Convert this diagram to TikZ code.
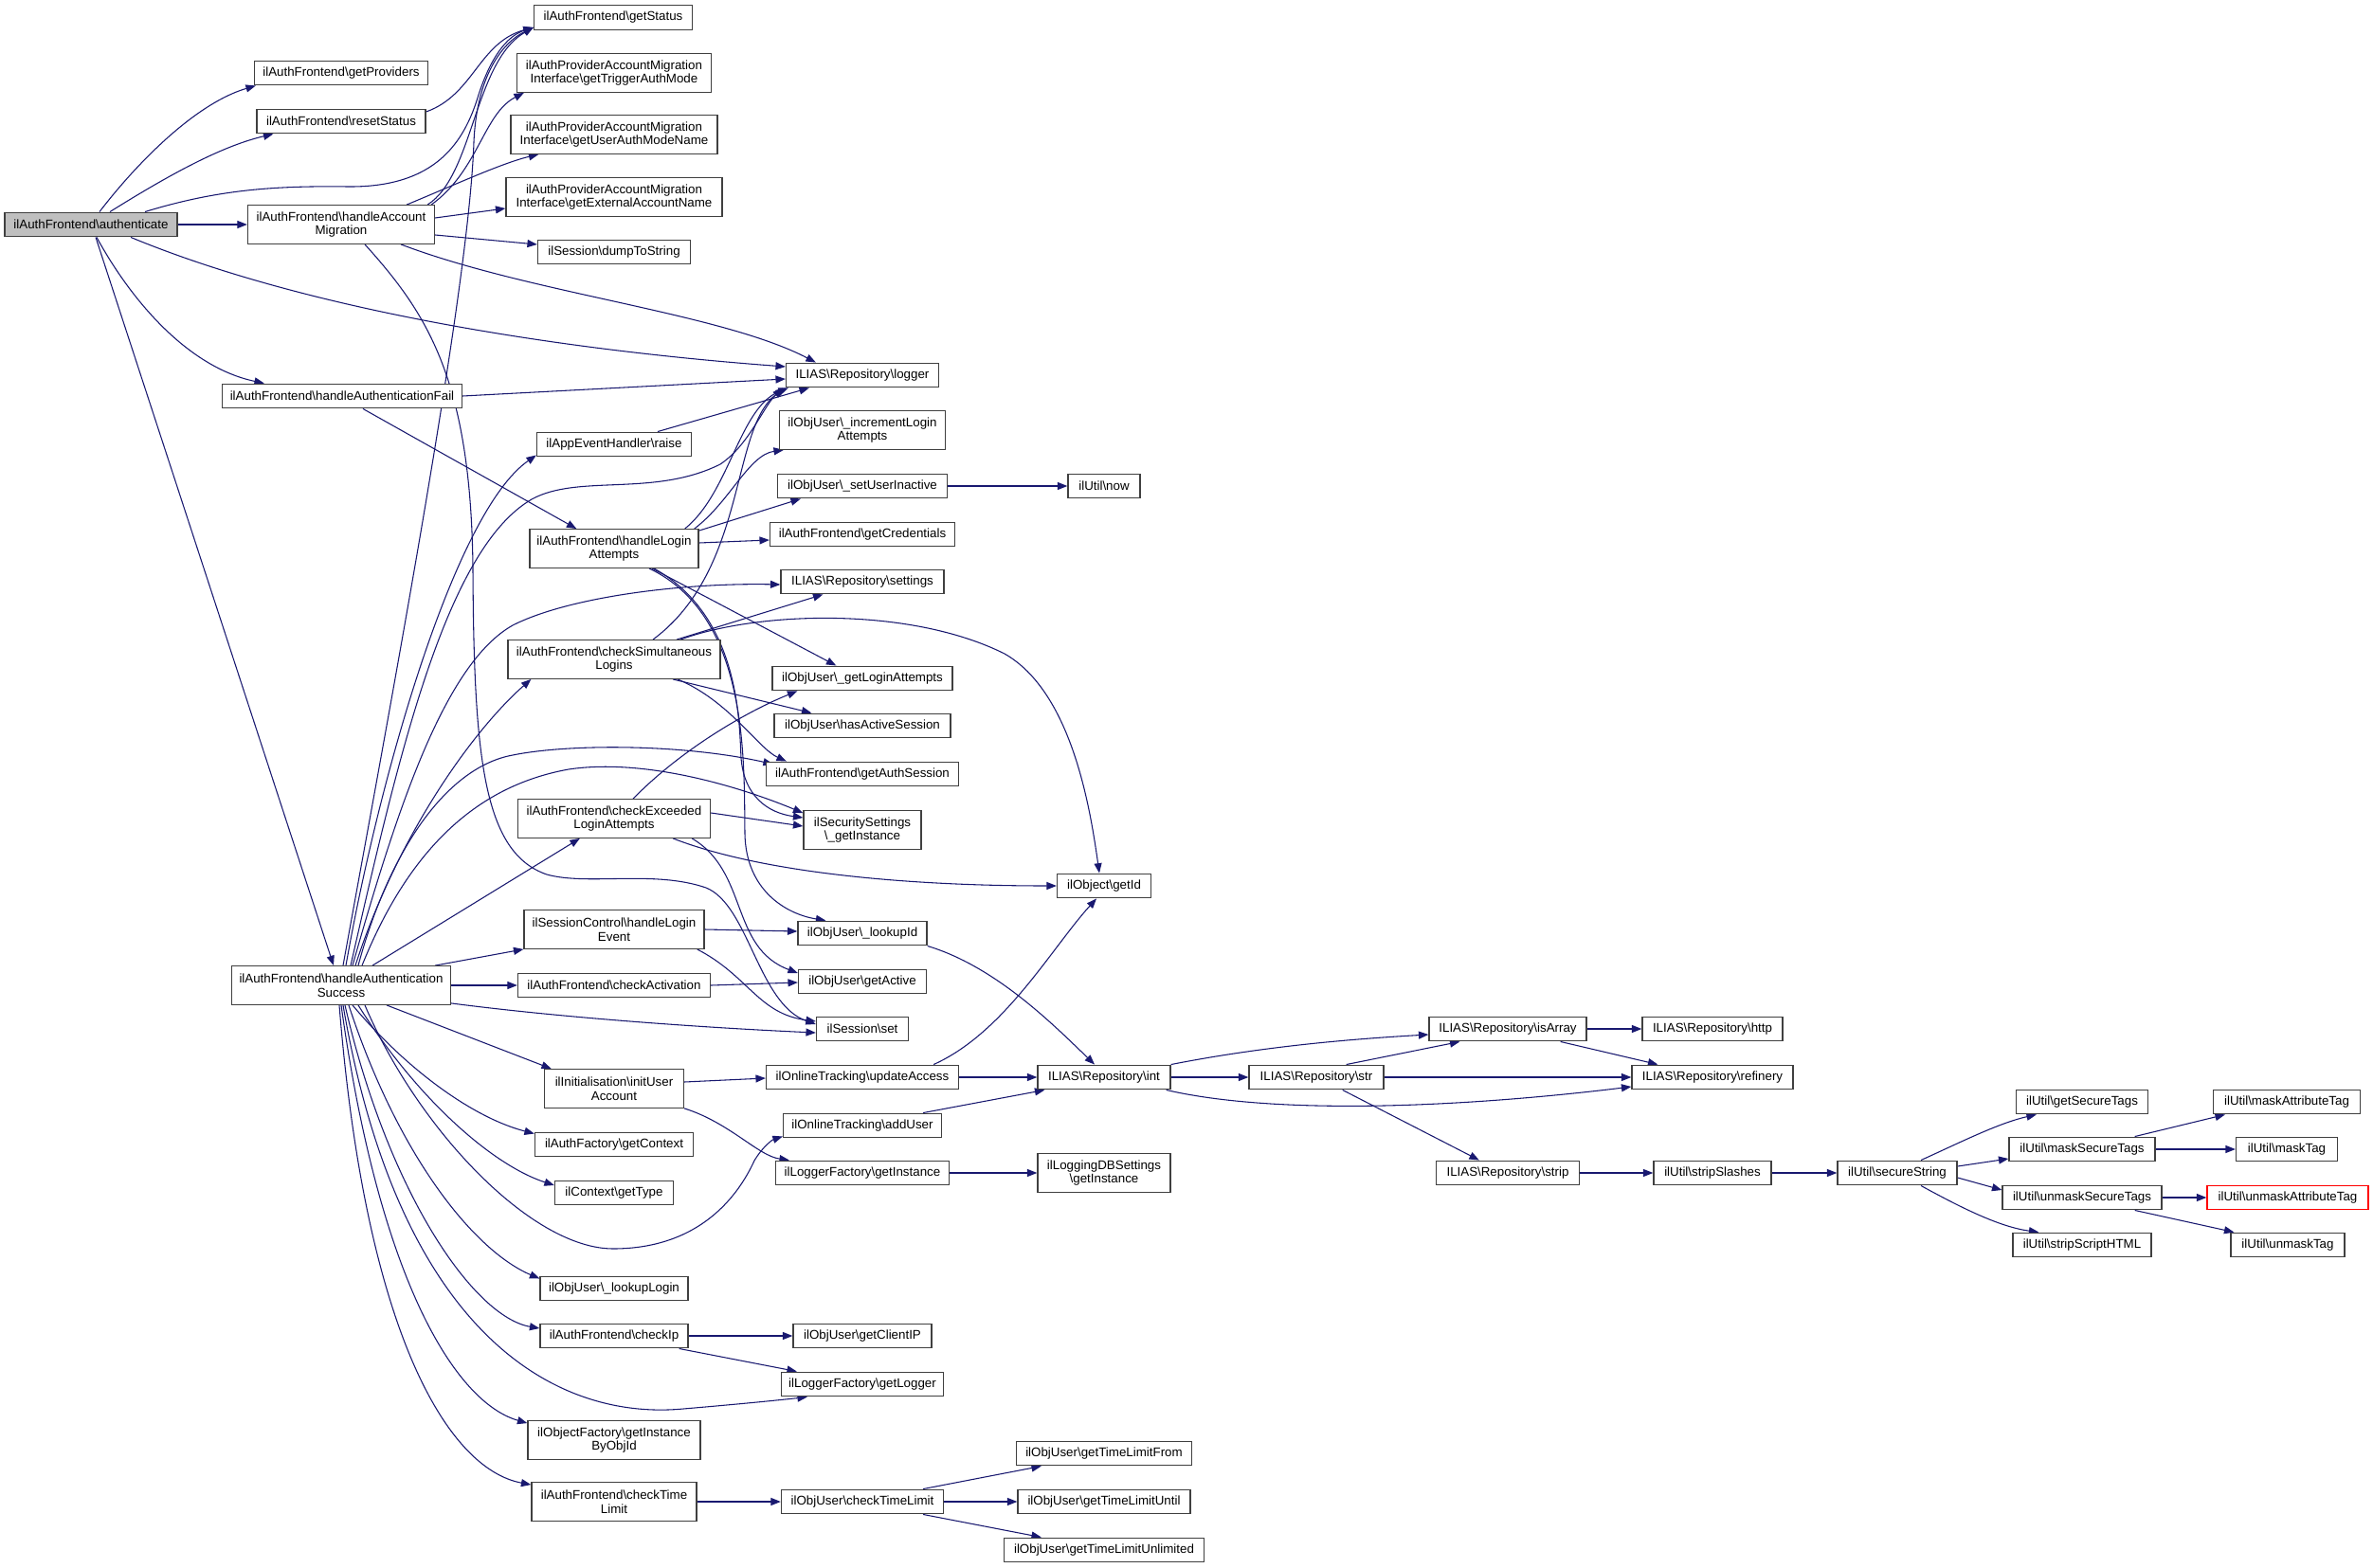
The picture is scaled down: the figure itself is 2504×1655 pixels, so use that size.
\documentclass[tikz,border=0pt]{standalone}
\usepackage{fontspec}
\setmainfont{Liberation Sans}
\usetikzlibrary{arrows.meta,calc}
\definecolor{edgecol}{HTML}{191970}
\definecolor{nodeborder}{HTML}{404040}
\definecolor{authgray}{HTML}{BFBFBF}
\newcommand{\bksl}{\textbackslash}
\pgfdeclarelayer{bg}
\pgfsetlayers{bg,main}
\begin{document}
\begin{tikzpicture}[x=0.75pt,y=-0.75pt,
  nd/.style={draw=nodeborder, line width=1pt, fill=white, inner sep=0pt, align=center, font=\fontsize{10}{11}\selectfont},
  bx/.style={nd, minimum width={#1*0.75pt}, minimum height=19.2pt},
  bb/.style={nd, minimum width={#1*0.75pt}, minimum height=30.4pt},
  cn/.style={draw=edgecol, line width=0.8pt, -{Triangle[length=7.8pt,width=6pt]}}
]
\useasboundingbox (0,0) rectangle (2504,1655);
\begin{pgfonlayer}{bg}
\fill[white] (0,0) rectangle (2504,1655);
\end{pgfonlayer}

% ---------- nodes ----------
\node[bx=182, fill=authgray] (auth) at (96,237) {ilAuthFrontend\bksl authenticate};
\node[bx=183] (getProv) at (360,77) {ilAuthFrontend\bksl getProviders};
\node[bx=178] (resetSt) at (360,128) {ilAuthFrontend\bksl resetStatus};
\node[bx=167] (getSt) at (647,18.5) {ilAuthFrontend\bksl getStatus};
\node[bb=205] (trig) at (648,77) {ilAuthProviderAccountMigration\\Interface\bksl getTriggerAuthMode};
\node[bb=218] (uam) at (648,142) {ilAuthProviderAccountMigration\\Interface\bksl getUserAuthModeName};
\node[bb=228] (ext) at (648,208) {ilAuthProviderAccountMigration\\Interface\bksl getExternalAccountName};
\node[bx=161] (dump) at (648,266) {ilSession\bksl dumpToString};
\node[bb=197] (ham) at (360,237) {ilAuthFrontend\bksl handleAccount\\Migration};
\node[bx=253] (haf) at (361,418) {ilAuthFrontend\bksl handleAuthenticationFail};
\node[bx=161] (logger) at (910,396) {ILIAS\bksl Repository\bksl logger};
\node[bx=163] (raise) at (648,469) {ilAppEventHandler\bksl raise};
\node[bb=175] (incr) at (910,454) {ilObjUser\bksl\_incrementLogin\\Attempts};
\node[bx=179] (inact) at (910,513) {ilObjUser\bksl\_setUserInactive};
\node[bx=76] (now) at (1165,513) {ilUtil\bksl now};
\node[bb=178] (hla) at (648,579) {ilAuthFrontend\bksl handleLogin\\Attempts};
\node[bx=195] (cred) at (910,564) {ilAuthFrontend\bksl getCredentials};
\node[bx=172] (settings) at (910,614) {ILIAS\bksl Repository\bksl settings};
\node[bb=224] (csl) at (648,696) {ilAuthFrontend\bksl checkSimultaneous\\Logins};
\node[bx=190] (gla) at (910,716) {ilObjUser\bksl\_getLoginAttempts};
\node[bx=186] (has) at (910,766) {ilObjUser\bksl hasActiveSession};
\node[bx=203] (gas) at (910,817) {ilAuthFrontend\bksl getAuthSession};
\node[bb=203] (cela) at (648,864) {ilAuthFrontend\bksl checkExceeded\\LoginAttempts};
\node[bb=124] (ssgi) at (910,876) {ilSecuritySettings\\\bksl\_getInstance};
\node[bx=99] (getid) at (1165,935) {ilObject\bksl getId};
\node[bb=190] (scle) at (648,981) {ilSessionControl\bksl handleLogin\\Event};
\node[bx=136] (lookupid) at (910,985) {ilObjUser\bksl\_lookupId};
\node[bx=203] (cact) at (648,1040) {ilAuthFrontend\bksl checkActivation};
\node[bx=135] (getact) at (910,1036) {ilObjUser\bksl getActive};
\node[bx=97] (sset) at (910,1086) {ilSession\bksl set};
\node[bb=147] (iua) at (648,1149) {ilInitialisation\bksl initUser\\Account};
\node[bx=203] (upd) at (910,1137) {ilOnlineTracking\bksl updateAccess};
\node[bx=140] (rint) at (1165,1137) {ILIAS\bksl Repository\bksl int};
\node[bx=167] (addu) at (910,1188) {ilOnlineTracking\bksl addUser};
\node[bx=167] (gctx) at (648,1208) {ilAuthFactory\bksl getContext};
\node[bx=183] (lfgi) at (910,1238) {ilLoggerFactory\bksl getInstance};
\node[bb=140] (ldb) at (1165,1238) {ilLoggingDBSettings\\\bksl getInstance};
\node[bx=125] (gtype) at (648,1259) {ilContext\bksl getType};
\node[bb=231] (hsucc) at (360,1040) {ilAuthFrontend\bksl handleAuthentication\\Success};
\node[bx=156] (llogin) at (648,1360) {ilObjUser\bksl\_lookupLogin};
\node[bx=156] (cip) at (648,1410) {ilAuthFrontend\bksl checkIp};
\node[bx=146] (gcip) at (910,1410) {ilObjUser\bksl getClientIP};
\node[bx=171] (glog) at (910,1461) {ilLoggerFactory\bksl getLogger};
\node[bb=182] (ofgi) at (648,1520) {ilObjectFactory\bksl getInstance\\ByObjId};
\node[bb=174] (ctl) at (648,1585) {ilAuthFrontend\bksl checkTime\\Limit};
\node[bx=171] (uctl) at (910,1585) {ilObjUser\bksl checkTimeLimit};
\node[bx=185] (tlf) at (1165,1534) {ilObjUser\bksl getTimeLimitFrom};
\node[bx=182] (tlu) at (1165,1585) {ilObjUser\bksl getTimeLimitUntil};
\node[bx=211] (tlun) at (1165,1636) {ilObjUser\bksl getTimeLimitUnlimited};
\node[bx=142] (rstr) at (1389,1137) {ILIAS\bksl Repository\bksl str};
\node[bx=166] (isarr) at (1591,1086) {ILIAS\bksl Repository\bksl isArray};
\node[bx=151] (strip) at (1591,1238) {ILIAS\bksl Repository\bksl strip};
\node[bx=148] (http) at (1807,1086) {ILIAS\bksl Repository\bksl http};
\node[bx=170] (refin) at (1807,1137) {ILIAS\bksl Repository\bksl refinery};
\node[bx=124] (sslash) at (1807,1238) {ilUtil\bksl stripSlashes};
\node[bx=126] (secs) at (2002,1238) {ilUtil\bksl secureString};
\node[bx=139] (gst) at (2197,1163) {ilUtil\bksl getSecureTags};
\node[bx=154] (mst) at (2197,1213) {ilUtil\bksl maskSecureTags};
\node[bx=168] (ust) at (2197,1264) {ilUtil\bksl unmaskSecureTags};
\node[bx=146] (ssh) at (2197,1314) {ilUtil\bksl stripScriptHTML};
\node[bx=155] (mat) at (2413,1163) {ilUtil\bksl maskAttributeTag};
\node[bx=107] (mtag) at (2413,1213) {ilUtil\bksl maskTag};
\node[bx=170, draw=red] (umat) at (2414,1264) {ilUtil\bksl unmaskAttributeTag};
\node[bx=120] (umtag) at (2414,1314) {ilUtil\bksl unmaskTag};

% ---------- connectors ----------
\begin{pgfonlayer}{bg}
% authenticate
\draw[cn] ($(auth.north)+(9,0)$) .. controls (150,165) and (210,108) .. ($(getProv.south west)+(2,0)$);
\draw[cn] ($(auth.north)+(20,0)$) .. controls (170,190) and (230,155) .. ($(resetSt.south west)+(18,0)$);
\draw[cn] ($(auth.north)+(57,0)$) .. controls (230,200) and (290,196) .. (367,197) .. controls (460,198) and (490,150) .. (505,100) .. controls (518,60) and (535,38) .. ($(getSt.south west)+(0,-3)$);
\draw[cn] (auth.east) -- (ham.west);
\draw[cn] ($(auth.south)+(42,0)$) .. controls (330,330) and (600,370) .. ($(logger.west)+(0,-9)$);
\draw[cn] ($(auth.south)+(6,0)$) .. controls (140,320) and (200,388) .. ($(haf.north west)+(45,0)$);
\draw[cn] ($(auth.south)+(5,0)$) -- ($(hsucc.north)+(-8,0)$);
% resetStatus
\draw[cn] ($(resetSt.east)+(0,-10)$) .. controls (500,100) and (505,45) .. ($(getSt.south west)+(0,-3)$);
% handleAccountMigration
\draw[cn] ($(ham.north east)+(-8,0)$) .. controls (500,185) and (500,65) .. ($(getSt.south west)+(0,-3)$);
\draw[cn] ($(ham.north east)+(-4,0)$) .. controls (505,180) and (510,120) .. ($(trig.south west)+(8,0)$);
\draw[cn] ($(ham.north east)+(-30,0)$) .. controls (480,195) and (530,172) .. ($(uam.south west)+(30,0)$);
\draw[cn] ($(ham.east)+(0,-7)$) -- ($(ext.west)+(0,12)$);
\draw[cn] ($(ham.east)+(0,11)$) -- ($(dump.west)+(0,-8)$);
\draw[cn] ($(ham.south)+(63,0)$) .. controls (560,310) and (760,330) .. ($(logger.north west)+(32,0)$);
\draw[cn] ($(ham.south)+(25,0)$) .. controls (450,330) and (497,400) .. (499,600) .. controls (500,800) and (510,900) .. (577,923) .. controls (620,935) and (690,918) .. (745,937) .. controls (790,955) and (800,1060) .. ($(sset.west)+(0,-5)$);
% handleAuthenticationFail
\draw[cn] (haf.east) -- ($(logger.west)+(0,4)$);
\draw[cn] ($(haf.south)+(22,0)$) -- ($(hla.north west)+(50,0)$);
% raise
\draw[cn] ($(raise.north)+(46,0)$) -- ($(logger.south west)+(25,0)$);
% handleAuthenticationSuccess
\draw[cn] ($(hsucc.north)+(2,0)$) .. controls (420,700) and (495,300) .. (500,150) .. controls (503,80) and (530,45) .. ($(getSt.south west)+(0,-3)$);
\draw[cn] ($(hsucc.north)+(5,0)$) .. controls (400,820) and (480,540) .. ($(raise.south west)+(0,-2)$);
\draw[cn] ($(hsucc.north)+(10,0)$) .. controls (420,800) and (470,580) .. (561,527) .. controls (610,500) and (690,525) .. (760,490) .. controls (790,470) and (805,430) .. ($(logger.south west)+(-3,0)$);
\draw[cn] ($(hsucc.north)+(15,0)$) .. controls (420,880) and (500,770) .. ($(csl.south west)+(25,0)$);
\draw[cn] ($(hsucc.north)+(12,0)$) .. controls (420,850) and (470,700) .. (541,660) .. controls (600,630) and (720,615) .. ($(settings.west)+(0,3)$);
\draw[cn] ($(hsucc.north)+(18,0)$) .. controls (410,900) and (470,810) .. (541,797) .. controls (600,785) and (720,785) .. ($(gas.north west)+(8,3)$);
\draw[cn] ($(hsucc.north)+(22,0)$) .. controls (430,900) and (500,830) .. (600,812) .. controls (680,800) and (780,830) .. ($(ssgi.north west)+(0,3)$);
\draw[cn] ($(hsucc.north)+(33,0)$) -- ($(cela.south west)+(66,0)$);
\draw[cn] ($(hsucc.north east)+(-17,0)$) -- (scle.south west);
\draw[cn] (hsucc.east) -- (cact.west);
\draw[cn] ($(hsucc.south east)+(0,-2)$) .. controls (600,1075) and (750,1085) .. ($(sset.west)+(0,4)$);
\draw[cn] ($(hsucc.south)+(48,0)$) -- ($(iua.north west)+(8,0)$);
\draw[cn] ($(hsucc.south)+(12,0)$) .. controls (430,1130) and (500,1180) .. ($(gctx.north west)+(0,2)$);
\draw[cn] ($(hsucc.south)+(18,0)$) .. controls (440,1160) and (520,1230) .. ($(gtype.west)+(0,-8)$);
\draw[cn] ($(hsucc.south)+(25,0)$) .. controls (440,1190) and (560,1318) .. (647,1318) .. controls (740,1318) and (780,1260) .. (796,1225) .. controls (805,1210) and (815,1203) .. ($(addu.south west)+(0,-2)$);
\draw[cn] ($(hsucc.south)+(8,0)$) .. controls (420,1220) and (500,1320) .. ($(llogin.north west)+(0,3)$);
\draw[cn] ($(hsucc.south)+(4,0)$) .. controls (410,1260) and (500,1390) .. ($(cip.west)+(0,-8)$);
\draw[cn] ($(hsucc.south)+(2,0)$) .. controls (420,1400) and (580,1500) .. (721,1487) .. controls (780,1482) and (820,1478) .. ($(glog.south west)+(28,0)$);
\draw[cn] (hsucc.south) .. controls (400,1350) and (480,1480) .. ($(ofgi.north west)+(0,3)$);
\draw[cn] ($(hsucc.south)+(-2,0)$) .. controls (385,1400) and (470,1550) .. ($(ctl.north west)+(0,3)$);
% handleLoginAttempts
\draw[cn] ($(hla.north east)+(-15,0)$) .. controls (770,520) and (780,430) .. ($(logger.south west)+(3,0)$);
\draw[cn] ($(hla.north east)+(-5,0)$) .. controls (770,530) and (790,480) .. ($(incr.south west)+(5,0)$);
\draw[cn] ($(hla.north east)+(0,2)$) -- ($(inact.south west)+(25,0)$);
\draw[cn] ($(hla.east)+(0,-6)$) -- ($(cred.west)+(0,6)$);
\draw[cn] ($(hla.south)+(40,0)$) -- ($(gla.north west)+(68,0)$);
\draw[cn] ($(hla.south)+(42,0)$) .. controls (780,650) and (780,760) .. (782,800) .. controls (785,840) and (810,858) .. ($(ssgi.west)+(0,-13)$);
\draw[cn] ($(hla.south)+(37,0)$) .. controls (790,650) and (785,800) .. (786,880) .. controls (787,940) and (830,965) .. ($(lookupid.north west)+(30,0)$);
% checkSimultaneousLogins
\draw[cn] ($(csl.north)+(41,0)$) .. controls (790,600) and (770,450) .. (logger.south west);
\draw[cn] ($(csl.north)+(66,0)$) -- ($(settings.south west)+(45,0)$);
\draw[cn] ($(csl.north)+(70,0)$) .. controls (800,645) and (960,640) .. (1060,690) .. controls (1130,730) and (1150,850) .. ($(getid.north)+(-5,0)$);
\draw[cn] ($(csl.south)+(62,0)$) -- ($(has.north west)+(40,0)$);
\draw[cn] ($(csl.south)+(67,0)$) .. controls (770,740) and (800,790) .. ($(gas.north west)+(22,0)$);
% checkExceededLoginAttempts
\draw[cn] ($(cela.north)+(20,0)$) .. controls (720,790) and (790,750) .. ($(gla.south west)+(27,0)$);
\draw[cn] ($(cela.east)+(0,-6)$) -- ($(ssgi.west)+(0,-4)$);
\draw[cn] ($(cela.south east)+(-40,0)$) .. controls (800,920) and (950,935) .. (getid.west);
\draw[cn] ($(cela.south east)+(-20,0)$) .. controls (790,920) and (770,1000) .. ($(getact.west)+(0,-9)$);
% ilSessionControl
\draw[cn] (scle.east) -- ($(lookupid.west)+(0,-2)$);
\draw[cn] ($(scle.south east)+(-8,0)$) .. controls (790,1030) and (800,1070) .. ($(sset.west)+(0,-8)$);
% checkActivation
\draw[cn] (cact.east) -- ($(getact.west)+(0,1)$);
% initUserAccount
\draw[cn] ($(iua.east)+(0,-7)$) -- ($(upd.west)+(0,1)$);
\draw[cn] (iua.south east) .. controls (770,1185) and (800,1220) .. ($(lfgi.north west)+(15,0)$);
% online tracking / lookup
\draw[cn] ($(upd.north east)+(-27,0)$) .. controls (1060,1090) and (1110,1000) .. ($(getid.south)+(-8,0)$);
\draw[cn] (upd.east) -- (rint.west);
\draw[cn] (lookupid.south east) .. controls (1050,1020) and (1110,1080) .. ($(rint.north)+(-10,0)$);
\draw[cn] ($(addu.north east)+(-20,0)$) -- ($(rint.south west)+(8,0)$);
\draw[cn] (lfgi.east) -- (ldb.west);
% repository
\draw[cn] (rint.north east) .. controls (1330,1105) and (1420,1097) .. ($(isarr.west)+(0,6)$);
\draw[cn] (rint.east) -- (rstr.west);
\draw[cn] ($(rint.south east)+(-5,0)$) .. controls (1350,1178) and (1550,1168) .. ($(refin.west)+(0,10)$);
\draw[cn] ($(rstr.north east)+(-40,0)$) -- ($(isarr.south west)+(33,0)$);
\draw[cn] (rstr.east) -- (refin.west);
\draw[cn] ($(rstr.south east)+(-44,0)$) -- ($(strip.north west)+(46,0)$);
\draw[cn] (isarr.east) -- (http.west);
\draw[cn] ($(isarr.south east)+(-28,0)$) -- ($(refin.north west)+(28,0)$);
\draw[cn] (strip.east) -- (sslash.west);
\draw[cn] (sslash.east) -- (secs.west);
% secureString
\draw[cn] ($(secs.north)+(25,0)$) .. controls (2070,1205) and (2110,1185) .. ($(gst.south west)+(22,0)$);
\draw[cn] ($(secs.east)+(0,-7)$) -- ($(mst.west)+(0,10)$);
\draw[cn] ($(secs.east)+(0,5)$) -- ($(ust.west)+(0,-8)$);
\draw[cn] ($(secs.south)+(25,0)$) .. controls (2070,1275) and (2110,1295) .. ($(ssh.north west)+(28,0)$);
\draw[cn] ($(mst.north east)+(-22,0)$) -- ($(mat.south west)+(13,0)$);
\draw[cn] (mst.east) -- (mtag.west);
\draw[cn] (ust.east) -- (umat.west);
\draw[cn] ($(ust.south east)+(-29,0)$) -- ($(umtag.north west)+(4,0)$);
% checkIp, time limit, inactive
\draw[cn] (cip.east) -- (gcip.west);
\draw[cn] ($(cip.south east)+(-10,0)$) -- ($(glog.north west)+(17,0)$);
\draw[cn] (ctl.east) -- (uctl.west);
\draw[cn] ($(uctl.north east)+(-22,0)$) -- ($(tlf.south west)+(27,0)$);
\draw[cn] (uctl.east) -- (tlu.west);
\draw[cn] ($(uctl.south east)+(-22,0)$) -- ($(tlun.north west)+(40,0)$);
\draw[cn] (inact.east) -- (now.west);
\end{pgfonlayer}
\end{tikzpicture}
\end{document}
